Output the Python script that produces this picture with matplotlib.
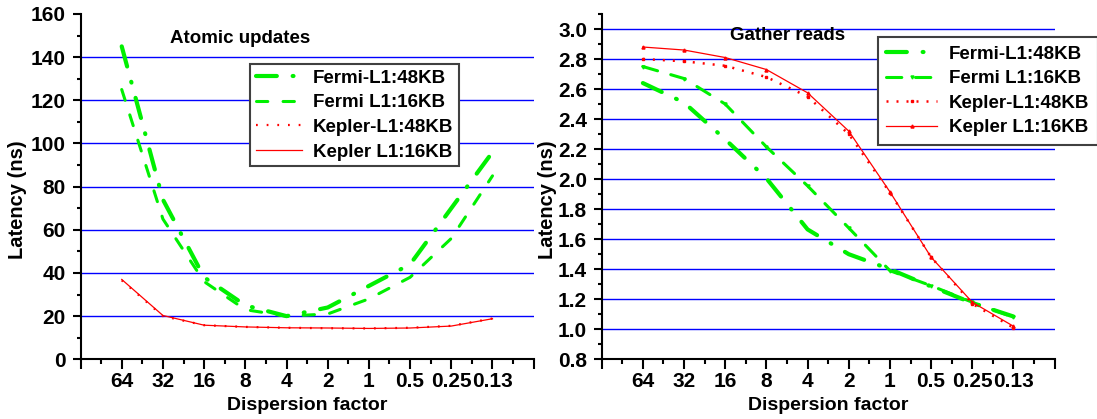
import numpy as np
import matplotlib
matplotlib.use("Agg")
import matplotlib.pyplot as plt
from matplotlib.ticker import FixedLocator, MultipleLocator, FormatStrFormatter

# dispersion factors (categorical x axis)
factors = ["64", "32", "16", "8", "4", "2", "1", "0.5", "0.25", "0.13"]

# Atomic updates latency (ns)
atomic_fermi48 = [145, 74, 38, 25, 20, 24, 34, 44, 70, 96]
atomic_fermi16 = [125, 65, 36, 23, 20, 21, 28, 38, 56, 85]
atomic_kepler48 = [36.6, 20.0, 15.8, 15.0, 14.6, 14.4, 14.3, 14.6, 15.5, 18.9]
atomic_kepler16 = [37.0, 20.3, 15.8, 15.0, 14.6, 14.5, 14.3, 14.5, 15.4, 18.8]

# Gather reads latency (ns)
gather_fermi48 = [2.64, 2.51, 2.265, 2.005, 1.665, 1.50, 1.40, 1.285, 1.175, 1.085]
gather_fermi16 = [2.75, 2.67, 2.50, 2.215, 1.955, 1.675, 1.39, 1.29, 1.18, 1.08]
gather_kepler48 = [2.80, 2.785, 2.755, 2.68, 2.55, 2.30, 1.91, 1.48, 1.17, 1.01]
gather_kepler16 = [2.88, 2.86, 2.81, 2.73, 2.575, 2.32, 1.915, 1.48, 1.18, 1.02]

labels = ["Fermi-L1:48KB", "Fermi L1:16KB", "Kepler-L1:48KB", "Kepler L1:16KB"]

GREEN = "#00f000"
RED = "#ff0000"
GRID = "#0000ff"

plt.rcParams.update({
    "font.family": ["Liberation Sans", "DejaVu Sans"],
    "font.weight": "bold",
    "axes.labelweight": "bold",
})


def style_axes(ax, yticks, yminor, yfmt, grid_vals, ytop):
    n = len(factors)
    ax.set_xlim(0, n + 1)
    ax.set_ylim(yticks[0], ytop)
    ax.xaxis.set_major_locator(FixedLocator(range(0, n + 2)))
    ax.set_xticklabels([""] + factors + [""])
    ax.xaxis.set_minor_locator(MultipleLocator(0.5))
    ax.yaxis.set_major_locator(FixedLocator(yticks))
    ax.yaxis.set_minor_locator(MultipleLocator(yminor))
    ax.yaxis.set_major_formatter(FormatStrFormatter(yfmt))
    for s in ("top", "right"):
        ax.spines[s].set_visible(False)
    for s in ("left", "bottom"):
        ax.spines[s].set_linewidth(1.5)
    ax.tick_params(axis="x", which="major", length=7, width=1.5, pad=2.5, labelsize=15)
    ax.tick_params(axis="x", which="minor", length=3.6, width=1.5)
    ax.tick_params(axis="y", which="major", length=6, width=1.5, pad=4.5, labelsize=15)
    ax.tick_params(axis="y", which="minor", length=3, width=1.5)
    for v in grid_vals:
        ax.axhline(v, color=GRID, lw=1.0, zorder=0)


def add_legend(ax, anchor, pad, hlen, tpad):
    leg = ax.legend(loc="upper left", bbox_to_anchor=anchor,
                    bbox_transform=ax.figure.transFigure, fontsize=13.5,
                    fancybox=False, edgecolor="#404040", framealpha=1,
                    borderaxespad=0, borderpad=pad, labelspacing=0.4,
                    handlelength=hlen, handletextpad=tpad, numpoints=1)
    leg.get_frame().set_linewidth(1.5)
    return leg


fig = plt.figure(figsize=(10.97, 4.19), dpi=100)
ax1 = fig.add_axes([0.0734, 0.1425, 0.4131, 0.8241])
ax2 = fig.add_axes([0.5485, 0.1425, 0.4129, 0.8241])

x = np.arange(1, len(factors) + 1)

# ---- left: atomic updates
yt1 = np.arange(0, 161, 20)
style_axes(ax1, yt1, 10, "%d", yt1[1:-1], 160)
ax1.plot(x, atomic_fermi48, color=GREEN, lw=3, dashes=(5, 3.8, 0.2, 3.8),
         dash_capstyle="round", label=labels[0])
ax1.plot(x, atomic_fermi16, color=GREEN, lw=2.2, dashes=(3.7, 5.0),
         dash_capstyle="round", label=labels[1])
ax1.plot(x, atomic_kepler48, color=RED, lw=1.6, dashes=(0.8, 4), label=labels[2])
ax1.plot(x, atomic_kepler16, color=RED, lw=0.9, label=labels[3])

ax1.text(0.1975, 0.916, "Atomic updates", transform=ax1.transAxes,
         fontsize=13.5, va="baseline", ha="left")
ax1.set_xlabel("Dispersion factor", fontsize=14)
ax1.xaxis.set_label_coords(0.5, -0.108)
ax1.set_ylabel("Latency (ns)", fontsize=14.5)
ax1.yaxis.set_label_coords(-0.118, 0.461)
add_legend(ax1, (0.2279, 0.8473), 0.3, 2.45, 0.6)

# ---- right: gather reads
yt2 = np.round(np.arange(0.8, 3.01, 0.2), 1)
style_axes(ax2, yt2, 0.1, "%.1f", yt2[1:], 3.1)
ax2.plot(x, gather_fermi48, color=GREEN, lw=3, dashes=(5, 3.8, 0.2, 3.8),
         dash_capstyle="round", label=labels[0])
ax2.plot(x, gather_fermi16, color=GREEN, lw=2.2, dashes=(5, 4.5),
         dash_capstyle="round", marker="v", ms=2.2, label=labels[1])
ax2.plot(x, gather_kepler48, color=RED, lw=1.8, dashes=(0.8, 3.2),
         marker="s", ms=2, label=labels[2])
ax2.plot(x, gather_kepler16, color=RED, lw=0.9, marker="^", ms=2.2, label=labels[3])

ax2.text(0.283, 0.926, "Gather reads", transform=ax2.transAxes,
         fontsize=13.5, va="baseline", ha="left")
ax2.set_xlabel("Dispersion factor", fontsize=14)
ax2.xaxis.set_label_coords(0.5, -0.108)
ax2.set_ylabel("Latency (ns)", fontsize=14.5)
ax2.yaxis.set_label_coords(-0.098, 0.461)
add_legend(ax2, (0.8004, 0.9117), 0.45, 2.7, 0.63)

fig.savefig("out.png", dpi=100)
